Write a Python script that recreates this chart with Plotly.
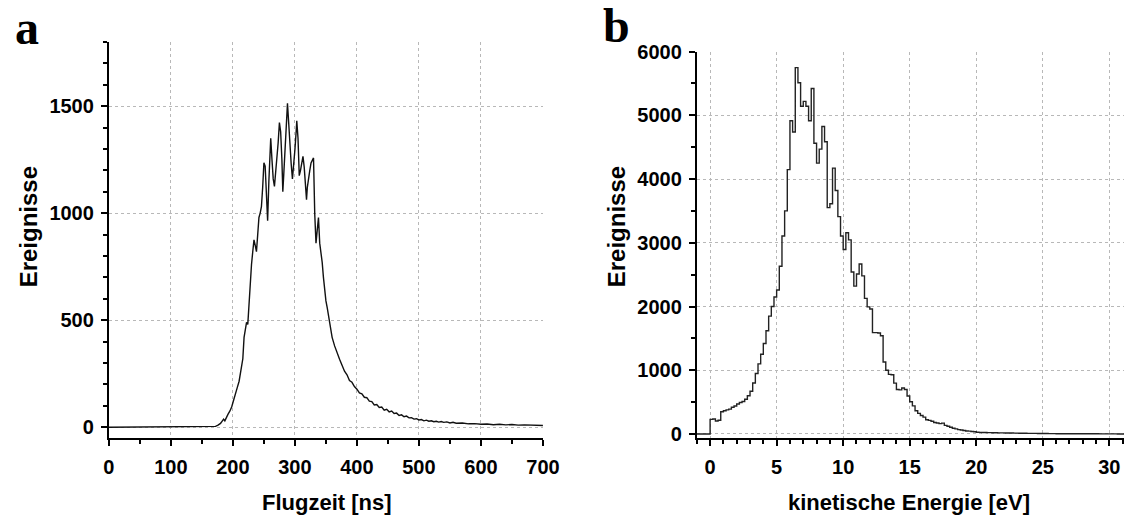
import plotly.graph_objects as go

# ---------------- data: panel a (time of flight) ----------------
tof_ns = [0, 50, 100, 150, 165, 172, 176, 180, 183, 185, 187, 189, 192, 195, 198,
          201, 204, 207, 210, 212, 214, 216, 218, 220, 222, 224, 226, 228, 230,
          232, 234, 236, 238, 240, 242, 244, 246, 248, 250, 252, 254, 256, 258,
          260, 261, 263, 265, 267, 269, 271, 273, 275, 277, 279, 280.5, 282, 284,
          286, 288, 290, 292, 294, 296, 298, 300, 302, 303, 305, 307, 309, 311,
          313, 315, 317, 318.7, 320, 322, 324, 326, 328, 330, 332, 334, 336, 338,
          340, 342, 344, 346, 348, 350, 352, 354, 356, 358,
          360, 364, 368, 372, 376, 380, 384, 388, 392, 396, 400, 404, 408, 412,
          416, 420, 424, 428, 432, 436, 440, 444, 448, 452, 456, 460, 464, 468,
          472, 476, 480, 484, 488, 492, 496, 500, 504, 508, 512, 516, 520, 524,
          528, 532, 536, 540, 545, 550, 555, 560, 570, 580, 590, 600, 610, 620,
          630, 640, 650, 660, 670, 680, 690, 700]
tof_counts = [0, 1, 0, 1, 2, 4, 10, 18, 30, 38, 30, 45, 60, 75, 95,
              125, 150, 185, 215, 250, 265, 320, 420, 470, 490, 480, 590, 680, 760,
              820, 875, 850, 820, 900, 980, 1000, 1030, 1120, 1235, 1220, 1090, 965, 1150,
              1330, 1350, 1250, 1160, 1125, 1190, 1250, 1330, 1423, 1380, 1250, 1100, 1180, 1300,
              1390, 1513, 1420, 1310, 1230, 1160, 1220, 1297, 1380, 1432, 1350, 1175, 1200, 1225,
              1265, 1215, 1150, 1063, 1120, 1170, 1200, 1235, 1245, 1258, 995, 860, 920, 980,
              860, 820, 770, 700, 640, 590, 560, 520, 480, 455,
              420, 380, 345, 318, 290, 262, 245, 218, 210, 190, 178, 160, 156, 140,
              138, 122, 120, 104, 106, 92, 94, 80, 84, 72, 76, 64, 66, 55,
              58, 49, 52, 44, 45, 38, 40, 34, 36, 30, 33, 28, 30, 26,
              28, 24, 27, 23, 25, 20, 23, 19, 20, 16, 17, 14, 15, 12,
              14, 11, 13, 10, 11, 9, 10, 8]

# ---------------- data: panel b (kinetic energy histogram, 0.2 eV bins) ----------------
ekin_first_edge = -1.0
ekin_bin_width = 0.2
ekin_counts = [0, 0, 0, 0, 0,
               230, 235, 205, 215, 350, 365, 378, 390, 420, 440,
               470, 495, 510, 545, 600, 670, 800, 950, 1100, 1250,
               1420, 1620, 1850, 2000, 2150, 2260, 2632, 3107, 3500, 4147,
               4915, 4738, 5748, 5510, 5142, 5218, 5142, 4915, 5420, 4561,
               4250, 4470, 4824, 4586, 3551, 3612, 4172, 3820, 3410, 3107,
               2895, 3157, 3046, 2541, 2320, 2510, 2667, 2480, 2127, 1995,
               1960, 1591, 1591, 1585, 1541, 1130, 1000, 935, 930, 798,
               697, 692, 722, 697, 596, 507, 441, 365, 324, 289,
               264, 223, 213, 200, 180, 172, 162, 170, 135, 122,
               105, 90, 80, 68, 62, 55, 48, 45, 38, 35,
               28, 25, 24, 25, 22, 21, 20, 19, 18, 18,
               17, 16, 15, 15, 14, 13, 12, 12, 11, 10,
               10, 9, 9, 8, 8, 7, 7, 6, 6, 6,
               5, 5, 5, 5, 4, 4, 4, 4, 4, 3,
               3, 3, 3, 3, 3, 3, 2, 2, 2, 2,
               2, 2, 2, 1, 1, 1]

# tick labels
a_xticks = [0, 100, 200, 300, 400, 500, 600, 700]
a_yticks = [0, 500, 1000, 1500]
b_xticks = [0, 5, 10, 15, 20, 25, 30]
b_yticks = [0, 1000, 2000, 3000, 4000, 5000, 6000]

# build step outline for the histogram
ekin_x = [round(ekin_first_edge + ekin_bin_width * i, 2) for i in range(len(ekin_counts) + 1)]
ekin_y = ekin_counts + [ekin_counts[-1]]

W, H = 1141, 524
SANS = "Liberation Sans, Arial, sans-serif"
SERIF = "Liberation Serif, Times New Roman, serif"

fig = go.Figure()
fig.add_trace(go.Scatter(x=tof_ns, y=tof_counts, mode="lines",
                         line=dict(color="#111", width=1.4),
                         xaxis="x", yaxis="y", hoverinfo="skip"))
fig.add_trace(go.Scatter(x=ekin_x, y=ekin_y, mode="lines",
                         line=dict(color="#222", width=1.4, shape="hv"),
                         xaxis="x2", yaxis="y2", hoverinfo="skip"))

common = dict(showline=True, linecolor="#000", linewidth=2,
              ticks="outside", ticklen=6, tickwidth=1.5, tickcolor="#000",
              showgrid=True, gridcolor="#b8b8b8", griddash="dot", gridwidth=1,
              zeroline=False, fixedrange=True,
              tickfont=dict(family=SANS, size=20, color="#000", weight="bold"))

def minor(d):
    return dict(dtick=d, ticks="outside", ticklen=4, tickwidth=1.5,
                tickcolor="#000", showgrid=False)

fig.update_layout(
    width=W, height=H, margin=dict(l=0, r=0, t=0, b=0),
    paper_bgcolor="white", plot_bgcolor="white", showlegend=False,
    xaxis=dict(common, domain=[105 / W, 548 / W], range=[0, 700],
               tickvals=a_xticks, minor=minor(50), anchor="y", ticklabelstandoff=4),
    yaxis=dict(common, domain=[1 - 441.7 / H, 1 - 32 / H], range=[-48, 1800],
               tickvals=a_yticks, minor=minor(100), anchor="x", ticklabelstandoff=3),
    xaxis2=dict(common, domain=[705 / W, 1.0], range=[-1, 31.1],
                tickvals=b_xticks, minor=minor(1), anchor="y2", ticklabelstandoff=4),
    yaxis2=dict(common, domain=[1 - 442 / H, 1 - 42 / H], range=[-60, 6000],
                tickvals=b_yticks, minor=minor(500), anchor="x2", ticklabelstandoff=3),
)

ann = []
def add(text, x, y, font, size, angle=0):
    ann.append(dict(text=text, x=x / W, y=1 - y / H, xref="paper", yref="paper",
                    showarrow=False, xanchor="center", yanchor="middle",
                    textangle=angle,
                    font=dict(family=font, size=size, color="#000", weight="bold")))

add("a", 21, 17, SERIF, 48)
add("b", 623, 15.5, SERIF, 48)
add("Ereignisse", 23, 223.5, SANS, 24, -90)
add("Ereignisse", 623, 223.5, SANS, 24, -90)
add("Flugzeit [ns]", 327.5, 509, SANS, 22)
add("kinetische Energie [eV]", 922, 509, SANS, 22)
fig.update_layout(annotations=ann)

fig.write_html("out.html")
